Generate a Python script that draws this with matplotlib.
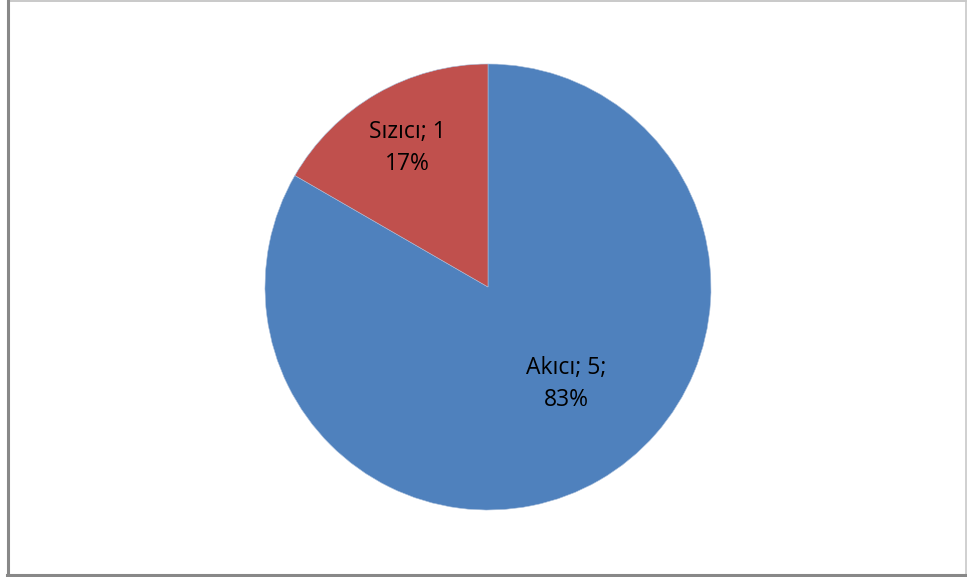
import matplotlib.pyplot as plt
from matplotlib.lines import Line2D
import numpy as np

labels = ["Akıcı", "Sızıcı"]
counts = [5, 1]
percents = ["83%", "17%"]
colors = ["#4F81BD", "#C0504D"]

W, H = 967, 577
fig = plt.figure(figsize=(W / 100, H / 100), dpi=100)
fig.patch.set_facecolor("white")

# chart frame (left/bottom darker like a shadow)
def px_line(x0, y0, x1, y1, color, lw):
    fig.add_artist(Line2D([x0 / W, x1 / W], [1 - y0 / H, 1 - y1 / H],
                          transform=fig.transFigure, color=color, lw=lw))

px_line(8, 0.5, 966, 0.5, "#c0c0c0", 1.2)
px_line(966, 0.5, 966, 575, "#c8c8c8", 1.2)
px_line(7.5, 0, 7.5, 577, "#888888", 2.2)
px_line(7, 575, 967, 575, "#888888", 2.2)

cx, cy, r = 488, 287, 223
ax = fig.add_axes([(cx - r) / W, (H - cy - r) / H, 2 * r / W, 2 * r / H])
ax.pie(counts, colors=colors, startangle=90, counterclock=False,
       wedgeprops=dict(edgecolor="#a9bfdc", linewidth=0.4))
ax.set_xlim(-1, 1)
ax.set_ylim(-1, 1)
ax.set_aspect("equal")
ax.axis("off")

# label positions (radius fraction, angle in degrees)
label_pos = [(0.56, -51), (0.72, 120)]
texts = [f"{labels[0]}; {counts[0]};\n{percents[0]}",
         f"{labels[1]}; {counts[1]}\n{percents[1]}"]
for (d, a), t in zip(label_pos, texts):
    ax.text(d * np.cos(np.radians(a)), d * np.sin(np.radians(a)), t,
            ha="center", va="center", fontsize=16.5, family="Open Sans",
            linespacing=1.45, color="black")

fig.savefig("out.png", dpi=100)
